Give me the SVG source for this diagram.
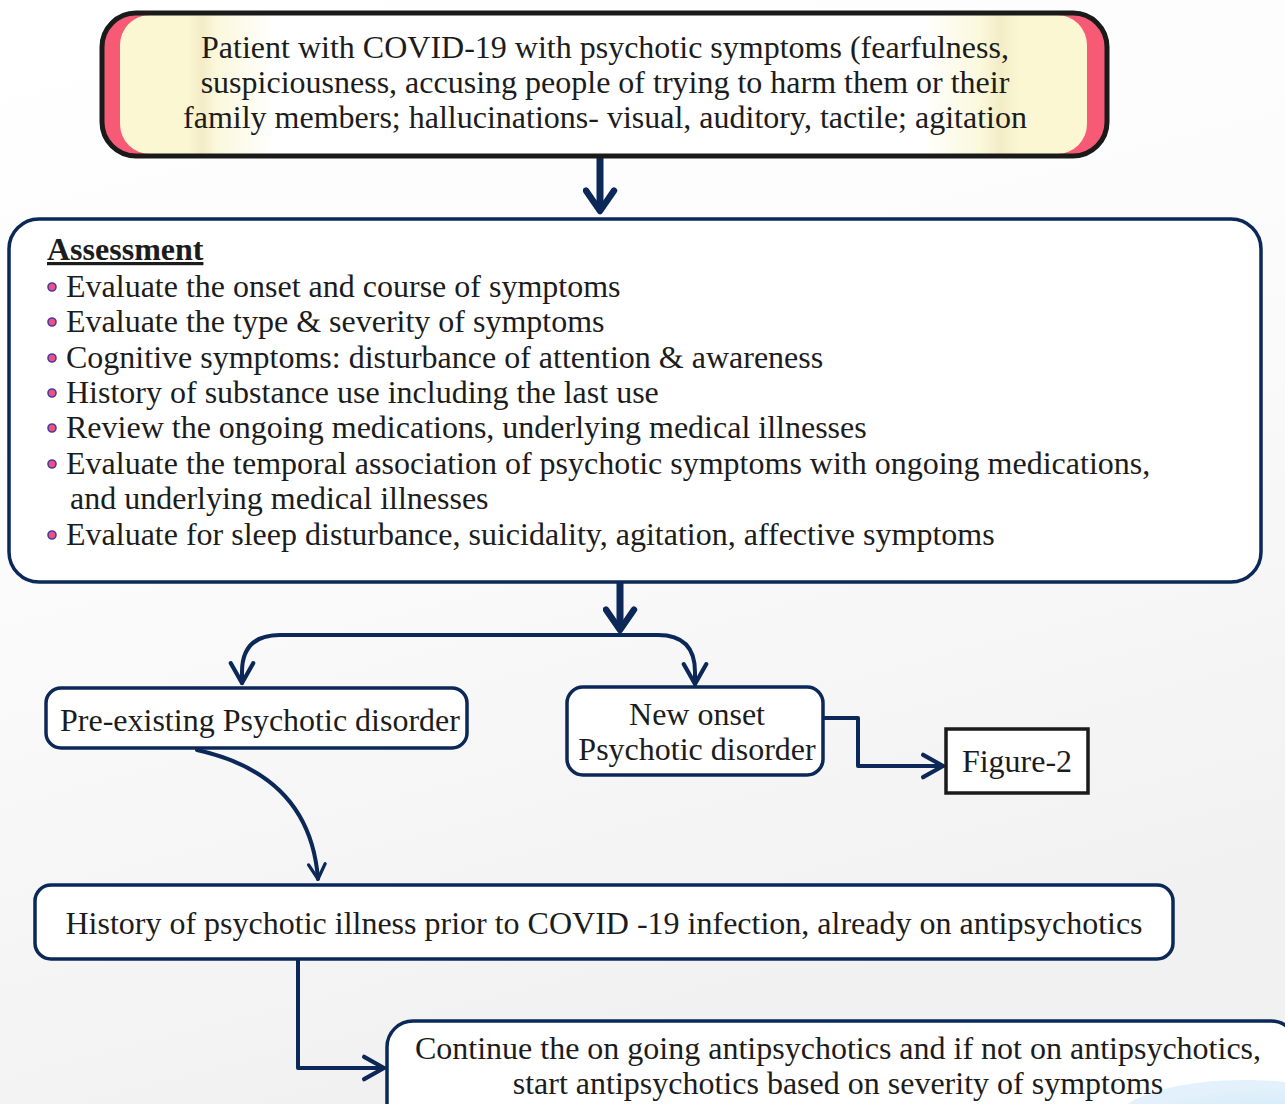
<svg xmlns="http://www.w3.org/2000/svg" width="1285" height="1104" viewBox="0 0 1285 1104">
  <defs>
    <linearGradient id="bg" x1="0" y1="0" x2="0.3" y2="1">
      <stop offset="0" stop-color="#ffffff"/>
      <stop offset="0.5" stop-color="#fbfbfb"/>
      <stop offset="1" stop-color="#f1f1f2"/>
    </linearGradient>
    <linearGradient id="cream" x1="0" y1="0" x2="1" y2="0">
      <stop offset="0" stop-color="#fbf7d3"/>
      <stop offset="0.07" stop-color="#fbf7d3"/>
      <stop offset="0.085" stop-color="#f3ecc6"/>
      <stop offset="0.1" stop-color="#fbf8dc"/>
      <stop offset="0.16" stop-color="#ffffff"/>
      <stop offset="0.83" stop-color="#ffffff"/>
      <stop offset="0.89" stop-color="#fbf8dc"/>
      <stop offset="0.91" stop-color="#f3ecc6"/>
      <stop offset="0.93" stop-color="#fbf7d3"/>
      <stop offset="1" stop-color="#fbf7d3"/>
    </linearGradient>
    <radialGradient id="blue" cx="0.6" cy="0.7" r="0.6">
      <stop offset="0" stop-color="#c4e2f6"/>
      <stop offset="1" stop-color="#e2f1fb"/>
    </radialGradient>
    <marker id="chev" viewBox="0 0 12 12" refX="10" refY="6" markerWidth="7" markerHeight="7" orient="auto" markerUnits="strokeWidth">
      <path d="M1.5,1.2 L10,6 L1.5,10.8" fill="none" stroke="#0b2858" stroke-width="1.8" stroke-linecap="round" stroke-linejoin="round"/>
    </marker>
    <marker id="chevCurve" viewBox="0 0 12 12" refX="10" refY="6" markerWidth="5.2" markerHeight="5.2" orient="auto" markerUnits="strokeWidth">
      <path d="M1.5,1.2 L10,6 L1.5,10.8" fill="none" stroke="#0b2858" stroke-width="1.9" stroke-linecap="round" stroke-linejoin="round"/>
    </marker>
    <marker id="chevBig" viewBox="0 0 12 12" refX="10" refY="6" markerWidth="5" markerHeight="5" orient="auto" markerUnits="strokeWidth">
      <path d="M3,1.2 L10,6 L3,10.8" fill="none" stroke="#0b2858" stroke-width="2.2" stroke-linecap="round" stroke-linejoin="round"/>
    </marker>
  </defs>
  <style>
    .t { font-family: "Liberation Serif", "Times New Roman", serif; font-size: 32px; fill: #1c1c1c; }
    .c { text-anchor: middle; }
    .box { fill: #ffffff; stroke: #0b2858; stroke-width: 3.5; }
    .link { fill: none; stroke: #0b2858; stroke-width: 4; stroke-linecap: round; stroke-linejoin: round; }
    .thick { fill: none; stroke: #0b2858; stroke-width: 7; }
    .dot { fill: #f0507a; stroke: #4a3aa8; stroke-width: 1.6; }
  </style>

  <!-- page background -->
  <rect x="0" y="0" width="1285" height="1104" fill="url(#bg)"/>

  <!-- connectors -->
  <g id="connectors">
    <line class="thick" x1="600" y1="158" x2="600" y2="211" marker-end="url(#chevBig)"/>
    <line class="thick" x1="620" y1="583" x2="620" y2="630" marker-end="url(#chevBig)"/>
    <path class="link" d="M620,635 L280,635 Q242,635 242,672 L242,683" marker-end="url(#chev)"/>
    <path class="link" d="M620,635 L658,635 Q695,635 695,672 L695,684" marker-end="url(#chev)"/>
    <path class="link" d="M823,718 L858,718 L858,766 L943,766" marker-end="url(#chev)"/>
    <path class="link" d="M197,750 Q310,775 318,879" marker-end="url(#chevCurve)" stroke-width="5.5"/>
    <path class="link" d="M298,959 L298,1068 L384,1068" marker-end="url(#chev)"/>
  </g>

  <!-- starting presentation -->
  <g id="node-presentation">
    <rect x="102" y="13" width="1005" height="143" rx="34" fill="#f65a75" stroke="none"/>
    <rect x="120" y="15" width="967" height="139" rx="30" fill="url(#cream)"/>
    <rect x="102" y="13" width="1005" height="143" rx="34" fill="none" stroke="#1a1a1a" stroke-width="5"/>
    <text class="t c" x="605" y="58">Patient with COVID-19 with psychotic symptoms (fearfulness,</text>
    <text class="t c" x="605" y="93">suspiciousness, accusing people of trying to harm them or their</text>
    <text class="t c" x="605" y="128">family members; hallucinations- visual, auditory, tactile; agitation</text>
  </g>

  <!-- assessment checklist -->
  <g id="node-assessment">
    <rect class="box" x="9" y="219" width="1252" height="363" rx="30"/>
    <text class="t" x="47" y="260" font-weight="bold" text-decoration="underline">Assessment</text>
    <circle class="dot" cx="52" cy="287" r="4"/>
    <text class="t" x="66" y="297">Evaluate the onset and course of symptoms</text>
    <circle class="dot" cx="52" cy="322" r="4"/>
    <text class="t" x="66" y="332">Evaluate the type &amp; severity of symptoms</text>
    <circle class="dot" cx="52" cy="358" r="4"/>
    <text class="t" x="66" y="368">Cognitive symptoms: disturbance of attention &amp; awareness</text>
    <circle class="dot" cx="52" cy="393" r="4"/>
    <text class="t" x="66" y="403">History of substance use including the last use</text>
    <circle class="dot" cx="52" cy="428" r="4"/>
    <text class="t" x="66" y="438">Review the ongoing medications, underlying medical illnesses</text>
    <circle class="dot" cx="52" cy="464" r="4"/>
    <text class="t" x="66" y="474">Evaluate the temporal association of psychotic symptoms with ongoing medications,</text>
    <text class="t" x="70" y="509">and underlying medical illnesses</text>
    <circle class="dot" cx="52" cy="535" r="4"/>
    <text class="t" x="66" y="545">Evaluate for sleep disturbance, suicidality, agitation, affective symptoms</text>
  </g>

  <g id="node-preexisting">
    <rect class="box" x="46" y="688" width="421" height="60" rx="15"/>
    <text class="t" x="60" y="731" font-size="31.5">Pre-existing Psychotic disorder</text>
  </g>

  <g id="node-newonset">
    <rect class="box" x="567" y="687" width="256" height="88" rx="16"/>
    <text class="t c" x="697" y="725">New onset</text>
    <text class="t c" x="697" y="760">Psychotic disorder</text>
  </g>

  <g id="node-figure2">
    <rect x="946" y="729" width="142" height="64" fill="#ffffff" stroke="#1a1a1a" stroke-width="3.5"/>
    <text class="t c" x="1017" y="772">Figure-2</text>
  </g>

  <g id="node-history">
    <rect class="box" x="35" y="885" width="1138" height="74" rx="16"/>
    <text class="t c" x="604" y="934">History of psychotic illness prior to COVID -19 infection, already on antipsychotics</text>
  </g>

  <g id="node-continue">
    <rect class="box" x="387" y="1021" width="910" height="110" rx="26" fill="#fafafa"/>
    <ellipse cx="1245" cy="1122" rx="130" ry="42" fill="url(#blue)"/>
    <text class="t c" x="838" y="1059">Continue the on going antipsychotics and if not on antipsychotics,</text>
    <text class="t c" x="838" y="1094">start antipsychotics based on severity of symptoms</text>
  </g>
</svg>
